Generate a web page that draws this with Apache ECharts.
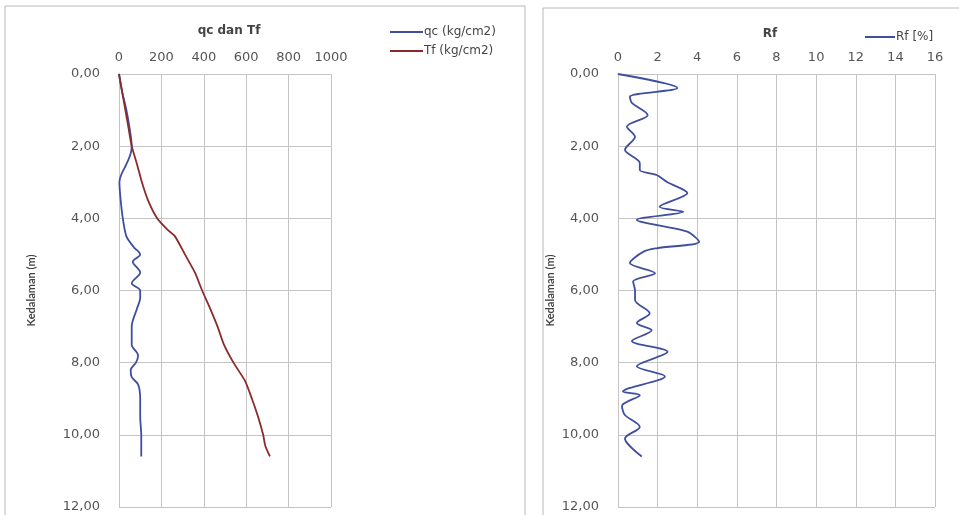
<!DOCTYPE html>
<html>
<head>
<meta charset="utf-8">
<script src="https://cdn.jsdelivr.net/npm/echarts@6/dist/echarts.min.js"></script>
<style>
  html, body { margin: 0; padding: 0; background: #fff; }
  #chart { width: 959px; height: 515px; }
</style>
</head>
<body>
<div id="chart"></div>
<script>
// kedalaman (m) untuk tiap titik
var qcDepth = [0, 0.5, 1, 1.5, 2, 2.2, 2.5, 2.8, 3, 3.5, 4, 4.5, 4.8, 5, 5.2, 5.5, 5.8, 6, 6.2, 6.5, 7, 7.5, 7.8, 8, 8.2, 8.4, 8.6, 9, 9.5, 10, 10.6];
var qcValue = [0, 15, 35, 50, 60, 55, 35, 10, 2, 8, 18, 35, 70, 100, 65, 100, 60, 100, 100, 85, 60, 60, 90, 80, 55, 60, 90, 100, 100, 105, 105];

var tfDepth = [0, 0.5, 1, 1.5, 2, 2.5, 3, 3.5, 4, 4.3, 4.5, 5, 5.5, 6, 6.5, 7, 7.5, 8, 8.5, 9, 9.5, 10, 10.3, 10.6];
var tfValue = [0, 15, 30, 45, 60, 85, 108, 137, 180, 226, 264, 311, 358, 392, 430, 465, 495, 540, 594, 627, 656, 680, 690, 712];

var rfDepth = [0, 0.39, 0.63, 0.8, 1.14, 1.46, 1.74, 2.1, 2.47, 2.66, 2.8, 3.0, 3.3, 3.68, 3.82, 4.04, 4.37, 4.65, 4.83, 4.93, 5.24, 5.52, 5.75, 6.0, 6.26, 6.63, 6.9, 7.1, 7.4, 7.7, 8.1, 8.38, 8.8, 8.9, 9.2, 9.45, 9.78, 10.1, 10.6];
var rfValue = [0, 3.0, 0.6, 0.7, 1.5, 0.45, 0.86, 0.35, 1.1, 1.1, 1.95, 2.5, 3.5, 2.1, 3.3, 0.95, 3.5, 4.1, 1.95, 1.27, 0.6, 1.87, 0.76, 0.86, 0.86, 1.6, 0.95, 1.7, 0.7, 2.5, 0.95, 2.37, 0.25, 1.1, 0.2, 0.35, 1.1, 0.35, 1.2];

function pairs(xs, ys) {
  var out = [];
  for (var i = 0; i < xs.length; i++) out.push([xs[i], ys[i]]);
  return out;
}

(function () {
  var myechart = echarts.init(document.getElementById("chart"));
  var font = "DejaVu Sans";
  var gridColor = "#c4c4c4";
  var labelColor = "#555";

  var yAxisBase = function (gap) {
    return {
      type: "value",
      inverse: true,
      min: 0,
      max: 12,
      interval: 2,
      name: "Kedalaman (m)",
      nameLocation: "middle",
      nameGap: gap,
      nameRotate: 90,
      nameTextStyle: { color: "#444", fontSize: 11, fontWeight: "bold", fontFamily: "Lato" },
      axisLine: { show: true, lineStyle: { color: gridColor } },
      axisTick: { show: false },
      axisLabel: {
        color: labelColor,
        fontSize: 13,
        fontFamily: font,
        margin: 19,
        formatter: function (v) { return v.toFixed(2).replace(".", ","); },
      },
      splitLine: { show: true, lineStyle: { color: gridColor } },
    };
  };

  var xAxisBase = function (max, step) {
    return {
      type: "value", position: "top", min: 0, max: max, interval: step,
      axisLine: { show: true, lineStyle: { color: gridColor } },
      axisTick: { show: false },
      axisLabel: {
        color: labelColor, fontSize: 13, fontFamily: font, margin: 10,
        formatter: function (v) { return String(v); },
      },
      splitLine: { show: true, lineStyle: { color: gridColor } },
    };
  };

  option = {
    animation: false,
    backgroundColor: "#fff",
    textStyle: { fontFamily: font },
    title: [
      { text: "qc dan Tf", left: 224, top: 20, textAlign: "center",
        textStyle: { fontSize: 12, fontWeight: "bold", color: "#444", fontFamily: font } },
      { text: "Rf", left: 765, top: 23, textAlign: "center",
        textStyle: { fontSize: 12, fontWeight: "bold", color: "#444", fontFamily: font } },
    ],
    legend: [
      {
        left: 385, top: 21, orient: "vertical", itemGap: 7,
        icon: "rect", itemWidth: 33, itemHeight: 2,
        textStyle: { fontSize: 12, color: "#444", fontFamily: font, padding: [0, 0, 0, -4] },
        data: ["qc (kg/cm2)", "Tf (kg/cm2)"],
      },
      {
        left: 860, top: 26,
        icon: "rect", itemWidth: 30, itemHeight: 2,
        textStyle: { fontSize: 12, color: "#444", fontFamily: font, padding: [0, 0, 0, -4] },
        data: ["Rf [%]"],
      },
    ],
    graphic: [
      { type: "rect", shape: { x: 5, y: 6, width: 520, height: 520 },
        style: { fill: "none", stroke: "#b8b8b8", lineWidth: 1 }, silent: true },
      { type: "rect", shape: { x: 543, y: 8, width: 430, height: 520 },
        style: { fill: "none", stroke: "#b8b8b8", lineWidth: 1 }, silent: true },
    ],
    grid: [
      { left: 119, right: 628, top: 74, bottom: 8 },
      { left: 618, right: 24, top: 74, bottom: 8 },
    ],
    xAxis: [
      Object.assign({ gridIndex: 0 }, xAxisBase(1000, 200)),
      Object.assign({ gridIndex: 1 }, xAxisBase(16, 2)),
    ],
    yAxis: [
      Object.assign({ gridIndex: 0 }, yAxisBase(82)),
      Object.assign({ gridIndex: 1 }, yAxisBase(62)),
    ],
    series: [
      {
        name: "qc (kg/cm2)", type: "line", xAxisIndex: 0, yAxisIndex: 0,
        showSymbol: false, smooth: 0.3, color: "#3f4f9e",
        lineStyle: { width: 1.8 },
        data: pairs(qcValue, qcDepth),
      },
      {
        name: "Tf (kg/cm2)", type: "line", xAxisIndex: 0, yAxisIndex: 0,
        showSymbol: false, smooth: 0.2, color: "#8a2b2b",
        lineStyle: { width: 1.8 },
        data: pairs(tfValue, tfDepth),
      },
      {
        name: "Rf [%]", type: "line", xAxisIndex: 1, yAxisIndex: 1,
        showSymbol: false, smooth: 0.3, color: "#3f4f9e",
        lineStyle: { width: 1.8 },
        data: pairs(rfValue, rfDepth),
      },
    ],
  };

  myechart.setOption(option);
})();
</script>
</body>
</html>
